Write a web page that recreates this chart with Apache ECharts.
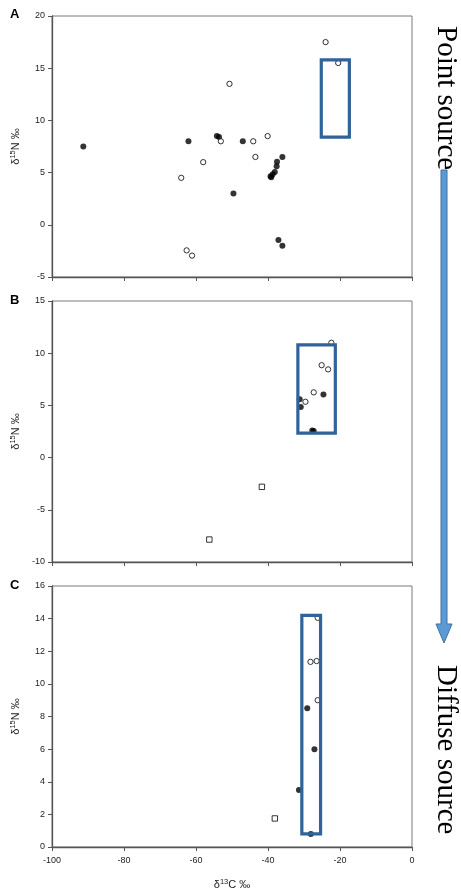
<!DOCTYPE html>
<html>
<head>
<meta charset="utf-8">
<script src="https://cdn.jsdelivr.net/npm/echarts@6/dist/echarts.min.js"></script>
<style>
html,body{margin:0;padding:0;background:#fff;}
#chart{width:461px;height:894px;}
</style>
</head>
<body>
<div id="chart"></div>
<script>
// ---- Data (δ13C ‰, δ15N ‰) ----
const xTicks = [-100, -80, -60, -40, -20, 0];
const panelLetters = ['A', 'B', 'C'];

// Panel A
const aFilledX = [-91.3, -62.1, -54.2, -53.6, -47.0, -49.6, -36.0, -37.5, -37.6, -38.1, -38.7, -39.3, -39.1, -37.1, -36.0];
const aFilledY = [7.5, 8.0, 8.5, 8.4, 8.0, 3.0, 6.5, 6.05, 5.6, 5.05, 4.85, 4.65, 4.55, -1.45, -2.0];
const aOpenX = [-24.0, -20.5, -50.7, -53.1, -44.1, -40.1, -43.5, -58.0, -64.1, -62.6, -61.1];
const aOpenY = [17.5, 15.5, 13.5, 8.0, 8.0, 8.5, 6.5, 6.0, 4.5, -2.45, -2.95];
const aSquareX = [];
const aSquareY = [];
const rectA = [-25.2, 8.4, -17.4, 15.8];

// Panel B
const bOpenX = [-22.4, -25.1, -23.3, -27.3, -29.6];
const bOpenY = [11.0, 8.85, 8.45, 6.25, 5.35];
const bFilledX = [-24.6, -31.2, -30.9, -27.7, -27.3];
const bFilledY = [6.05, 5.6, 4.85, 2.6, 2.55];
const bSquareX = [-41.7, -56.3];
const bSquareY = [-2.8, -7.85];
const rectB = [-31.7, 2.35, -21.3, 10.8];

// Panel C
const cOpenX = [-26.2, -28.2, -26.5, -26.2];
const cOpenY = [14.05, 11.35, 11.4, 9.0];
const cFilledX = [-29.1, -27.1, -31.4, -28.1];
const cFilledY = [8.5, 6.0, 3.5, 0.8];
const cSquareX = [-38.1];
const cSquareY = [1.75];
const rectC = [-30.6, 0.8, -25.4, 14.2];

// y axis ranges
const yMin = [-5, -10, 0];
const yMax = [20, 15, 16];
const yStep = [5, 5, 2];

function zip(xs, ys) { return xs.map((x, i) => [x, ys[i]]); }

const panels = [
  {filled: zip(aFilledX, aFilledY), open: zip(aOpenX, aOpenY), square: zip(aSquareX, aSquareY), rect: rectA},
  {filled: zip(bFilledX, bFilledY), open: zip(bOpenX, bOpenY), square: zip(bSquareX, bSquareY), rect: rectB},
  {filled: zip(cFilledX, cFilledY), open: zip(cOpenX, cOpenY), square: zip(cSquareX, cSquareY), rect: rectC}
];

const FONT = 'Liberation Sans';
const gridTops = [16, 301, 586];
const gridH = 261;

const nameRich = {
  a: {fontFamily: FONT, fontSize: 11, color: '#222', lineHeight: 13},
  s: {fontFamily: FONT, fontSize: 7.5, color: '#222', lineHeight: 8, verticalAlign: 'top'}
};

const grids = [], xAxes = [], yAxes = [], series = [];
panels.forEach((p, i) => {
  grids.push({left: 52, right: 49, top: gridTops[i], height: gridH, show: true,
    borderColor: '#7a7a7a', borderWidth: 1, backgroundColor: '#fff'});
  xAxes.push({
    type: 'value', gridIndex: i, min: xTicks[0], max: xTicks[xTicks.length - 1], interval: 20,
    splitLine: {show: false},
    axisLine: {show: true, onZero: false, lineStyle: {color: '#555', width: 1.3}},
    axisTick: {show: true, inside: false, length: 4, lineStyle: {color: '#555'}},
    axisLabel: {show: i === 2, fontFamily: FONT, fontSize: 9, color: '#222', margin: 9},
    name: i === 2 ? '{a|δ}{s|13}{a|C ‰}' : '',
    nameLocation: 'middle', nameGap: 31,
    nameTextStyle: {fontFamily: FONT, fontSize: 11, color: '#222', rich: nameRich}
  });
  yAxes.push({
    type: 'value', gridIndex: i, min: yMin[i], max: yMax[i], interval: yStep[i],
    splitLine: {show: false},
    axisLine: {show: true, onZero: false, lineStyle: {color: '#555', width: 1.3}},
    axisTick: {show: true, inside: false, length: 4, lineStyle: {color: '#555'}},
    axisLabel: {fontFamily: FONT, fontSize: 9, color: '#222', margin: 7},
    name: '{a|δ}{s|15}{a|N ‰}',
    nameLocation: 'middle', nameRotate: 90, nameGap: 30,
    nameTextStyle: {fontFamily: FONT, fontSize: 11, color: '#222', rich: nameRich}
  });
  series.push({
    type: 'scatter', xAxisIndex: i, yAxisIndex: i, data: p.filled, symbol: 'circle', symbolSize: 6,
    itemStyle: {color: '#000'}, z: 3, silent: true
  });
  series.push({
    type: 'scatter', xAxisIndex: i, yAxisIndex: i, data: p.open, symbol: 'circle', symbolSize: 5.3,
    itemStyle: {color: '#fff', borderColor: '#000', borderWidth: 1}, z: 4, silent: true
  });
  series.push({
    type: 'scatter', xAxisIndex: i, yAxisIndex: i, data: p.square, symbol: 'rect', symbolSize: 5.4,
    itemStyle: {color: '#fff', borderColor: '#000', borderWidth: 1}, z: 4, silent: true
  });
  series.push({
    type: 'custom', xAxisIndex: i, yAxisIndex: i, data: [p.rect], z: 10, silent: true,
    clip: false,
    renderItem: function (params, api) {
      const p1 = api.coord([api.value(0), api.value(3)]);
      const p2 = api.coord([api.value(2), api.value(1)]);
      return {type: 'rect', shape: {x: p1[0], y: p1[1], width: p2[0] - p1[0], height: p2[1] - p1[1]},
        style: {fill: 'none', stroke: '#2f6399', lineWidth: 3.2}};
    }
  });
});

const graphics = [];
const letterY = [14, 300, 585];
panelLetters.forEach((t, i) => {
  graphics.push({type: 'text', x: 10, y: letterY[i], silent: true,
    style: {text: t, font: 'bold 13px "Liberation Sans"', fill: '#000', align: 'left', verticalAlign: 'middle'}});
});
graphics.push({type: 'text', x: 446, y: 26, rotation: -Math.PI / 2, silent: true,
  style: {text: 'Point source', font: '29px "Liberation Serif"', fill: '#000', align: 'left', verticalAlign: 'middle'}});
graphics.push({type: 'text', x: 446, y: 665, rotation: -Math.PI / 2, silent: true,
  style: {text: 'Diffuse source', font: '29px "Liberation Serif"', fill: '#000', align: 'left', verticalAlign: 'middle'}});
graphics.push({type: 'polygon', silent: true,
  shape: {points: [[441, 170], [447, 170], [447, 624], [452, 624], [444, 643], [436, 624], [441, 624]]},
  style: {fill: '#5b9bd5', stroke: '#41719c', lineWidth: 1}});

const chart = echarts.init(document.getElementById('chart'), null, {renderer: 'canvas'});
chart.setOption({
  animation: false,
  backgroundColor: '#fff',
  grid: grids,
  xAxis: xAxes,
  yAxis: yAxes,
  series: series,
  graphic: graphics
});
</script>
</body>
</html>
